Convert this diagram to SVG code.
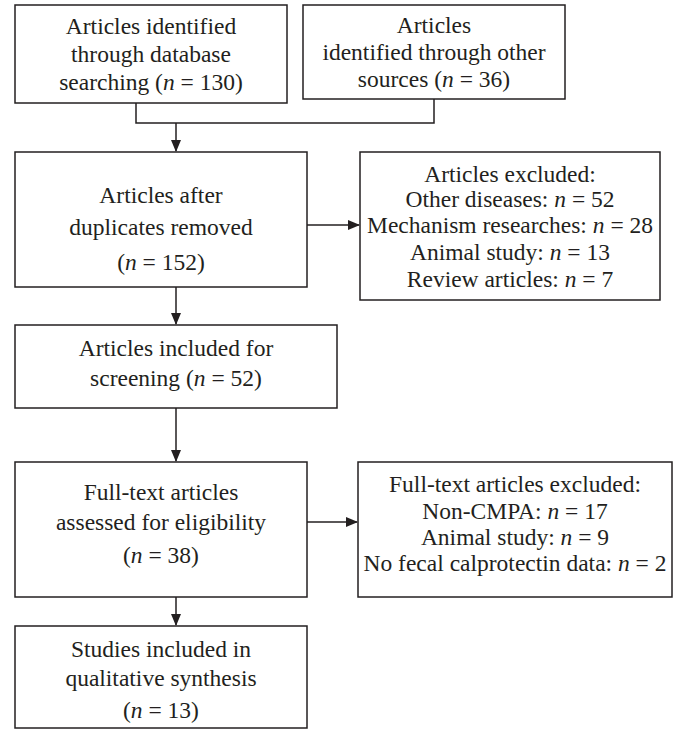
<svg xmlns="http://www.w3.org/2000/svg" width="685" height="734" viewBox="0 0 685 734">
<style>
rect{fill:#fff;stroke:#231f20;stroke-width:1.5}
text{font-family:"Liberation Serif","Times New Roman",serif;font-size:23.5px;fill:#231f20;text-anchor:middle}
.c{fill:none;stroke:#231f20;stroke-width:1.5}
</style>
<defs><marker id="a" markerWidth="12" markerHeight="12" refX="11" refY="5" orient="auto" markerUnits="userSpaceOnUse"><path d="M0,0L12,5L0,10z" fill="#231f20"/></marker></defs>
<rect width="685" height="734" style="stroke:none"/>
<g id="connectors">
<path class="c" d="M136,103V123H434V99"/>
<path class="c" d="M176,123V151" marker-end="url(#a)"/>
<path class="c" d="M307,225H359" marker-end="url(#a)"/>
<path class="c" d="M176,287V324" marker-end="url(#a)"/>
<path class="c" d="M176,408V461" marker-end="url(#a)"/>
<path class="c" d="M307,522H357" marker-end="url(#a)"/>
<path class="c" d="M176,597V625" marker-end="url(#a)"/>
</g>
<g id="n1"><rect x="15" y="5" width="272" height="98"/><text x="151" y="34">Articles identified</text><text x="151" y="62">through database</text><text x="151" y="90">searching (<tspan font-style="italic">n</tspan> = 130)</text></g>
<g id="n2"><rect x="303" y="5" width="262" height="94"/><text x="434" y="33">Articles</text><text x="434" y="60">identified through other</text><text x="434" y="87">sources (<tspan font-style="italic">n</tspan> = 36)</text></g>
<g id="n3"><rect x="15" y="152" width="292" height="135"/><text x="161" y="203">Articles after</text><text x="161" y="235">duplicates removed</text><text x="161" y="270">(<tspan font-style="italic">n</tspan> = 152)</text></g>
<g id="n4"><rect x="360" y="152" width="300" height="148"/><text x="510" y="182">Articles  excluded:</text><text x="510" y="207">Other diseases: <tspan font-style="italic">n</tspan> = 52</text><text x="510" y="233">Mechanism researches: <tspan font-style="italic">n</tspan> = 28</text><text x="510" y="260">Animal study: <tspan font-style="italic">n</tspan> = 13</text><text x="510" y="287">Review articles: <tspan font-style="italic">n</tspan> = 7</text></g>
<g id="n5"><rect x="15" y="325" width="322" height="83"/><text x="176" y="356">Articles included for</text><text x="176" y="386">screening (<tspan font-style="italic">n</tspan> = 52)</text></g>
<g id="n6"><rect x="15" y="462" width="292" height="135"/><text x="161" y="500">Full-text articles</text><text x="161" y="530">assessed for eligibility</text><text x="161" y="563">(<tspan font-style="italic">n</tspan> = 38)</text></g>
<g id="n7"><rect x="358" y="462" width="314" height="135"/><text x="515" y="492">Full-text articles excluded:</text><text x="515" y="519">Non-CMPA: <tspan font-style="italic">n</tspan> = 17</text><text x="515" y="545">Animal study: <tspan font-style="italic">n</tspan> = 9</text><text x="515" y="571">No fecal calprotectin data: <tspan font-style="italic">n</tspan> = 2</text></g>
<g id="n8"><rect x="15" y="626" width="292" height="102"/><text x="161" y="657">Studies included in</text><text x="161" y="686">qualitative synthesis</text><text x="161" y="718">(<tspan font-style="italic">n</tspan> =  13)</text></g>
</svg>
